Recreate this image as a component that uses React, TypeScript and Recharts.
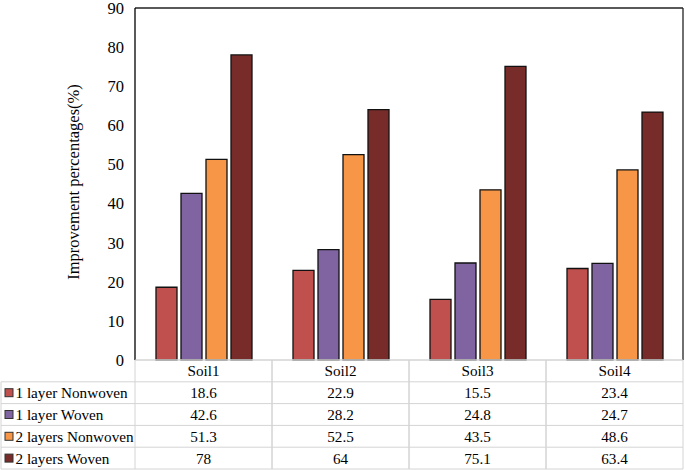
import React from "react";
import {
  BarChart, Bar, XAxis, YAxis, ReferenceLine,
} from "recharts";

const categories = ["Soil1", "Soil2", "Soil3", "Soil4"];
const seriesNames = ["1 layer Nonwoven", "1 layer Woven", "2 layers Nonwoven", "2 layers Woven"];
const oneNonwoven = [18.6, 22.9, 15.5, 23.4];
const oneWoven = [42.6, 28.2, 24.8, 24.7];
const twoNonwoven = [51.3, 52.5, 43.5, 48.6];
const twoWoven = [78, 64, 75.1, 63.4];
const yTicks = [0, 10, 20, 30, 40, 50, 60, 70, 80, 90];

const seriesValues = [oneNonwoven, oneWoven, twoNonwoven, twoWoven];
const colors = ["#C0504D", "#8064A2", "#F79646", "#772C2A"];
const keys = ["s0", "s1", "s2", "s3"];

const data = categories.map((c, i) => ({
  name: c,
  s0: oneNonwoven[i],
  s1: oneWoven[i],
  s2: twoNonwoven[i],
  s3: twoWoven[i],
}));

const FONT = "Liberation Serif";
const GRID = "#d4d4d4";
const BAND = 137;
const ROW = 21.8;
const RIGHT_EDGE = 683;
const textStyle = { fontFamily: FONT, fontSize: 16.5 };
const tableStyle = { fontFamily: FONT, fontSize: 15.2 };

function TableTick(props: any) {
  const { x, y, payload } = props;
  const i = payload.index;
  const left = x - BAND / 2;
  const right = x + BAND / 2;
  const top = y;
  const rows = [categories[i], ...seriesValues.map((s) => String(s[i]))];
  return (
    <g style={tableStyle} fill="#000">
      {rows.map((txt, r) => (
        <text key={r} x={x} y={top + r * ROW + ROW / 2 + 5.5} textAnchor="middle" style={tableStyle}>
          {txt}
        </text>
      ))}
      <line x1={left} x2={left} y1={top} y2={top + ROW * 5} stroke={GRID} />
      <line x1={right} x2={right} y1={top} y2={top + ROW * 5} stroke={GRID} />
      {[0, 1, 2, 3, 4, 5].map((r) => (
        <line key={r} x1={left} x2={right} y1={top + r * ROW} y2={top + r * ROW} stroke={GRID} />
      ))}
      {i === 0 && (
        <g>
          <line x1={1} x2={1} y1={top + ROW} y2={top + ROW * 5} stroke={GRID} />
          {[1, 2, 3, 4, 5].map((r) => (
            <line key={r} x1={1} x2={left} y1={top + r * ROW} y2={top + r * ROW} stroke={GRID} />
          ))}
          {seriesNames.map((n, r) => {
            const cy = top + (r + 1) * ROW + ROW / 2;
            return (
              <g key={n}>
                <rect x={5} y={cy - 4} width={8} height={8} fill={colors[r]} stroke="#333" strokeWidth={1} />
                <text x={15.5} y={cy + 5.5} textAnchor="start" style={tableStyle}>{n}</text>
              </g>
            );
          })}
        </g>
      )}
    </g>
  );
}

export default function App() {
  return (
    <div style={{ position: "absolute", left: 0, top: 0, background: "#fff", fontFamily: FONT }}>
      <BarChart
        width={685}
        height={470}
        data={data}
        margin={{ top: 8, right: 685 - RIGHT_EDGE - 1, left: 0, bottom: 0 }}
        barCategoryGap={21}
        barGap={4}
        style={{ fontFamily: FONT }}
      >
        <XAxis
          dataKey="name"
          height={110}
          interval={0}
          tickLine={false}
          tickSize={0}
          tickMargin={0}
          axisLine={{ stroke: GRID }}
          tick={<TableTick />}
        />
        <YAxis
          width={135}
          domain={[0, 90]}
          ticks={yTicks}
          interval={0}
          tickLine={false}
          tickSize={0}
          tickMargin={11}
          axisLine={{ stroke: "#000", strokeWidth: 1.3 }}
          tick={{ fontSize: 16.5, fill: "#000", style: textStyle }}
          label={{
            value: "Improvement percentages(%)",
            angle: -90,
            position: "center",
            dx: 6,
            dy: -2,
            style: { ...textStyle, fill: "#000" },
          }}
        />
        <YAxis
          yAxisId="r"
          orientation="right"
          width={1}
          domain={[0, 90]}
          tick={false}
          tickLine={false}
          axisLine={{ stroke: "#222", strokeWidth: 1.3 }}
        />
        <ReferenceLine y={90} stroke="#222" strokeWidth={1.3} />
        {keys.map((k, i) => (
          <Bar
            key={k}
            dataKey={k}
            name={seriesNames[i]}
            fill={colors[i]}
            stroke="#111"
            strokeWidth={1.3}
            isAnimationActive={false}
          />
        ))}
      </BarChart>
    </div>
  );
}
